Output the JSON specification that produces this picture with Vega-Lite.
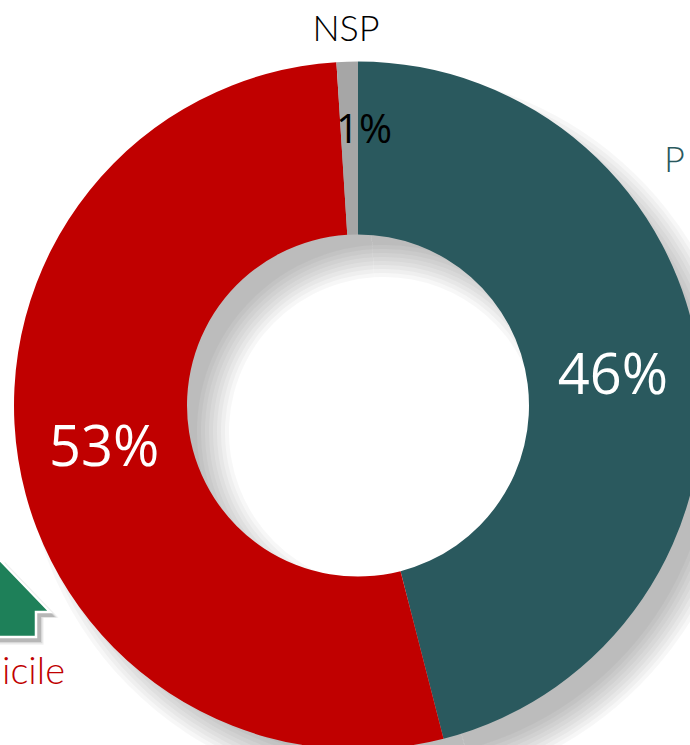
{"$schema":"https://vega.github.io/schema/vega-lite/v6.json","width":690,"height":745,"padding":0,"autosize":"none","background":"white","view":{"stroke":null},
"datasets":{"d":[{"category":"P","value":46,"ord":1,"label":"46%"},{"category":"Domicile","value":53,"ord":2,"label":"53%"},{"category":"NSP","value":1,"ord":3,"label":"1%"}]},
"data":{"name":"d"},
"layer":[
{"mark":{"type":"arc","radius":360,"radius2":155,"color":"#000","opacity":0.03},"encoding":{"x":{"datum":384,"scale":{"domain":[0,690],"range":[0,690]},"axis":null},"y":{"datum":432,"scale":{"domain":[0,745],"range":[0,745]},"axis":null},"theta":{"field":"value","type":"quantitative","stack":true,"scale":{"domain":[0,100]}},"order":{"field":"ord"}}},
{"mark":{"type":"arc","radius":356,"radius2":159,"color":"#000","opacity":0.03},"encoding":{"x":{"datum":384,"scale":{"domain":[0,690],"range":[0,690]},"axis":null},"y":{"datum":432,"scale":{"domain":[0,745],"range":[0,745]},"axis":null},"theta":{"field":"value","type":"quantitative","stack":true,"scale":{"domain":[0,100]}},"order":{"field":"ord"}}},
{"mark":{"type":"arc","radius":352,"radius2":163,"color":"#000","opacity":0.03},"encoding":{"x":{"datum":384,"scale":{"domain":[0,690],"range":[0,690]},"axis":null},"y":{"datum":432,"scale":{"domain":[0,745],"range":[0,745]},"axis":null},"theta":{"field":"value","type":"quantitative","stack":true,"scale":{"domain":[0,100]}},"order":{"field":"ord"}}},
{"mark":{"type":"arc","radius":348,"radius2":167,"color":"#000","opacity":0.03},"encoding":{"x":{"datum":384,"scale":{"domain":[0,690],"range":[0,690]},"axis":null},"y":{"datum":432,"scale":{"domain":[0,745],"range":[0,745]},"axis":null},"theta":{"field":"value","type":"quantitative","stack":true,"scale":{"domain":[0,100]}},"order":{"field":"ord"}}},
{"mark":{"type":"arc","radius":344,"radius2":171,"color":"#000","opacity":0.03},"encoding":{"x":{"datum":384,"scale":{"domain":[0,690],"range":[0,690]},"axis":null},"y":{"datum":432,"scale":{"domain":[0,745],"range":[0,745]},"axis":null},"theta":{"field":"value","type":"quantitative","stack":true,"scale":{"domain":[0,100]}},"order":{"field":"ord"}}},
{"mark":{"type":"arc","radius":340,"radius2":175,"color":"#000","opacity":0.03},"encoding":{"x":{"datum":384,"scale":{"domain":[0,690],"range":[0,690]},"axis":null},"y":{"datum":432,"scale":{"domain":[0,745],"range":[0,745]},"axis":null},"theta":{"field":"value","type":"quantitative","stack":true,"scale":{"domain":[0,100]}},"order":{"field":"ord"}}},
{"mark":{"type":"arc","radius":336,"radius2":179,"color":"#000","opacity":0.03},"encoding":{"x":{"datum":384,"scale":{"domain":[0,690],"range":[0,690]},"axis":null},"y":{"datum":432,"scale":{"domain":[0,745],"range":[0,745]},"axis":null},"theta":{"field":"value","type":"quantitative","stack":true,"scale":{"domain":[0,100]}},"order":{"field":"ord"}}},
{"mark":{"type":"arc","radius":332,"radius2":183,"color":"#000","opacity":0.03},"encoding":{"x":{"datum":384,"scale":{"domain":[0,690],"range":[0,690]},"axis":null},"y":{"datum":432,"scale":{"domain":[0,745],"range":[0,745]},"axis":null},"theta":{"field":"value","type":"quantitative","stack":true,"scale":{"domain":[0,100]}},"order":{"field":"ord"}}},
{"mark":{"type":"arc","radius":328,"radius2":187,"color":"#000","opacity":0.03},"encoding":{"x":{"datum":384,"scale":{"domain":[0,690],"range":[0,690]},"axis":null},"y":{"datum":432,"scale":{"domain":[0,745],"range":[0,745]},"axis":null},"theta":{"field":"value","type":"quantitative","stack":true,"scale":{"domain":[0,100]}},"order":{"field":"ord"}}},
{"mark":{"type":"arc","radius":344,"radius2":171},"encoding":{"x":{"datum":358,"scale":{"domain":[0,690],"range":[0,690]},"axis":null},"y":{"datum":405.5,"scale":{"domain":[0,745],"range":[0,745]},"axis":null},"theta":{"field":"value","type":"quantitative","stack":true,"scale":{"domain":[0,100]}},"order":{"field":"ord"},"color":{"field":"category","type":"nominal","legend":null,"scale":{"domain":["P","Domicile","NSP"],"range":["#2A595E","#C00000","#A6A6A6"]}}}},
{"transform":[{"filter":"datum.category!='NSP'"}],"mark":{"type":"text","font":"Open Sans","fontSize":56,"color":"white","align":"center","baseline":"middle","radius":257,"dy":4},"encoding":{"x":{"datum":358,"scale":{"domain":[0,690],"range":[0,690]},"axis":null},"y":{"datum":405,"scale":{"domain":[0,745],"range":[0,745]},"axis":null},"theta":{"field":"value","type":"quantitative","stack":true,"scale":{"domain":[0,100]}},"order":{"field":"ord"},"text":{"field":"label"}}},
{"data":{"values":[{"label":"1%"}]},"mark":{"type":"text","font":"Open Sans","fontSize":40,"color":"#000","align":"center","baseline":"middle"},"encoding":{"x":{"datum":364,"scale":{"domain":[0,690],"range":[0,690]},"axis":null},"y":{"datum":131,"scale":{"domain":[0,745],"range":[0,745]},"axis":null},"text":{"field":"label"}}},
{"data":{"values":[{"label":"NSP"}]},"mark":{"type":"text","font":"Lato","fontSize":36,"fontWeight":300,"color":"#000","align":"center","baseline":"middle"},"encoding":{"x":{"datum":346,"scale":{"domain":[0,690],"range":[0,690]},"axis":null},"y":{"datum":30,"scale":{"domain":[0,745],"range":[0,745]},"axis":null},"text":{"field":"label"}}},
{"data":{"values":[{"label":"P"}]},"mark":{"type":"text","font":"Lato","fontSize":36,"fontWeight":300,"color":"#2A595E","align":"left","baseline":"middle"},"encoding":{"x":{"datum":664,"scale":{"domain":[0,690],"range":[0,690]},"axis":null},"y":{"datum":161,"scale":{"domain":[0,745],"range":[0,745]},"axis":null},"text":{"field":"label"}}},
{"data":{"values":[{"label":"icile"}]},"mark":{"type":"text","font":"Lato","fontSize":38,"fontWeight":300,"color":"#C00000","align":"right","baseline":"alphabetic"},"encoding":{"x":{"datum":65,"scale":{"domain":[0,690],"range":[0,690]},"axis":null},"y":{"datum":684,"scale":{"domain":[0,745],"range":[0,745]},"axis":null},"text":{"field":"label"}}},
{"data":{"values":[{"icon":"house"}]},"mark":{"type":"point","filled":true,"size":46000,"color":"#000","opacity":0.06,"strokeWidth":0,"shape":"M0,-0.4 L0.5,0.12 L0.36,0.12 L0.36,0.37 L-0.36,0.37 L-0.36,0.12 L-0.5,0.12 Z"},"encoding":{"x":{"datum":5,"scale":{"domain":[0,690],"range":[0,690]},"axis":null},"y":{"datum":605,"scale":{"domain":[0,745],"range":[0,745]},"axis":null}}},
{"data":{"values":[{"icon":"house"}]},"mark":{"type":"point","filled":true,"size":43000,"color":"#000","opacity":0.1,"strokeWidth":0,"shape":"M0,-0.4 L0.5,0.12 L0.36,0.12 L0.36,0.37 L-0.36,0.37 L-0.36,0.12 L-0.5,0.12 Z"},"encoding":{"x":{"datum":5,"scale":{"domain":[0,690],"range":[0,690]},"axis":null},"y":{"datum":605,"scale":{"domain":[0,745],"range":[0,745]},"axis":null}}},
{"data":{"values":[{"icon":"house"}]},"mark":{"type":"point","filled":true,"size":40000,"color":"#000","opacity":0.15,"strokeWidth":0,"shape":"M0,-0.4 L0.5,0.12 L0.36,0.12 L0.36,0.37 L-0.36,0.37 L-0.36,0.12 L-0.5,0.12 Z"},"encoding":{"x":{"datum":5,"scale":{"domain":[0,690],"range":[0,690]},"axis":null},"y":{"datum":605,"scale":{"domain":[0,745],"range":[0,745]},"axis":null}}},
{"data":{"values":[{"icon":"house"}]},"mark":{"type":"point","filled":true,"size":40000,"fill":"#1E8059","fillOpacity":1,"stroke":"#FFFFFF","strokeOpacity":1,"strokeWidth":2.5,"shape":"M0,-0.4 L0.5,0.12 L0.36,0.12 L0.36,0.37 L-0.36,0.37 L-0.36,0.12 L-0.5,0.12 Z"},"encoding":{"x":{"datum":0,"scale":{"domain":[0,690],"range":[0,690]},"axis":null},"y":{"datum":600,"scale":{"domain":[0,745],"range":[0,745]},"axis":null}}}
]}
